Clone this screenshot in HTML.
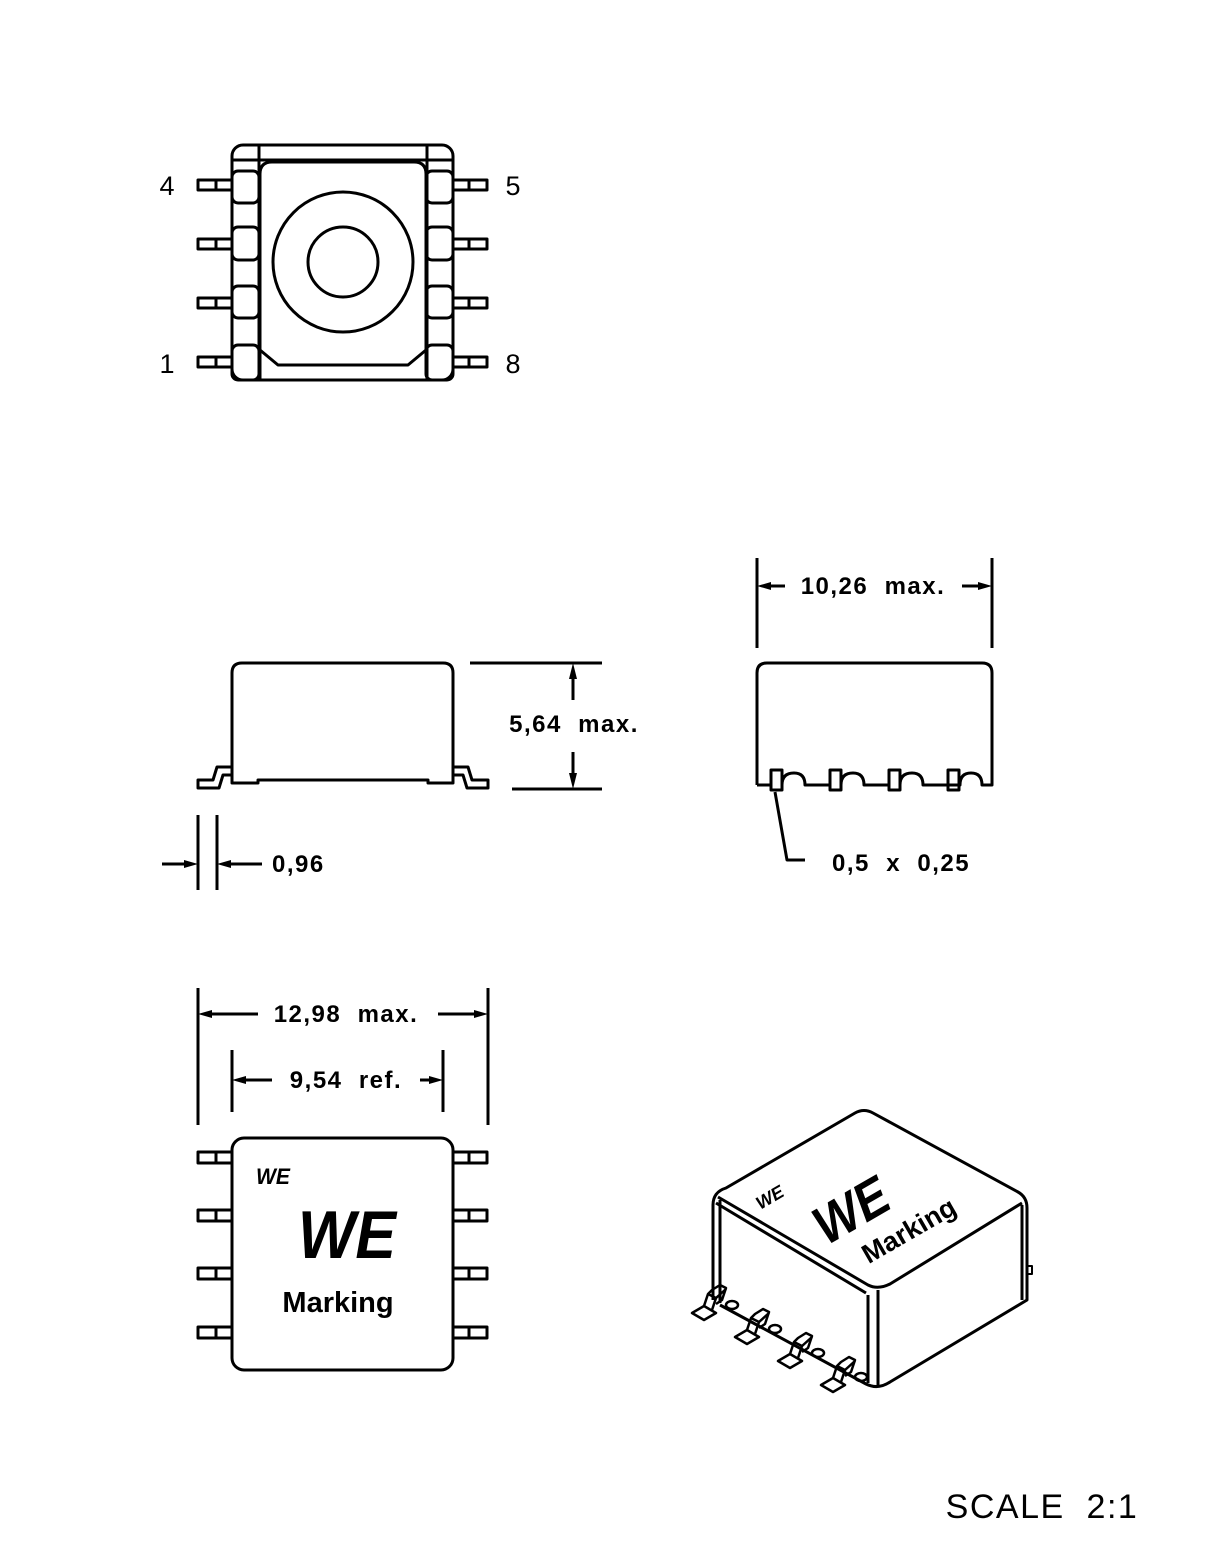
<!DOCTYPE html>
<html><head><style>html,body{margin:0;padding:0;background:#fff}svg{display:block}text{white-space:pre}</style></head><body>
<svg width="1229" height="1558" viewBox="0 0 1229 1558" xmlns="http://www.w3.org/2000/svg" font-family="Liberation Sans, sans-serif" xml:space="preserve">
<g fill="none" stroke="#000" stroke-width="3" stroke-linejoin="round">
<rect x="232" y="145" width="221" height="235" rx="11"/>
<line x1="259" y1="145" x2="259" y2="380"/><line x1="427" y1="145" x2="427" y2="380"/>
<line x1="232" y1="160" x2="453" y2="160"/>
<path d="M260,380 V174 Q260,162 272,162 H414 Q426,162 426,174 V350 L408,365 H278 L260,350"/>
<circle cx="343" cy="262" r="70"/><circle cx="343" cy="262" r="35"/>
<g id="pl">
<rect x="232" y="171" width="27" height="32" rx="6"/><rect x="232" y="227" width="27" height="33" rx="6"/>
<rect x="232" y="286" width="27" height="32" rx="6"/><rect x="232" y="345" width="27" height="35" rx="6"/>
</g>
<use href="#pl" transform="translate(685,0) scale(-1,1)"/>
<g id="ll">
<rect x="198" y="180" width="34" height="10"/><line x1="216" y1="180" x2="216" y2="190"/>
<rect x="198" y="239" width="34" height="10"/><line x1="216" y1="239" x2="216" y2="249"/>
<rect x="198" y="298" width="34" height="10"/><line x1="216" y1="298" x2="216" y2="308"/>
<rect x="198" y="357" width="34" height="10"/><line x1="216" y1="357" x2="216" y2="367"/>
</g>
<use href="#ll" transform="translate(685,0) scale(-1,1)"/>
<path d="M232,775 V673 Q232,663 242,663 H443 Q453,663 453,673 V783 H428 V780 H258 V783 H232 Z"/>
<path d="M232,767 H217 L213,780 H198 V788 H219 L223,775 H232"/>
<path d="M453,767 H468 L472,780 H488 V788 H467 L463,775 H453"/>
<line x1="470" y1="663" x2="602" y2="663"/><line x1="512" y1="789" x2="602" y2="789"/>
<line x1="573" y1="700" x2="573" y2="670"/>
<line x1="573" y1="752" x2="573" y2="782"/>
<line x1="198" y1="815" x2="198" y2="890"/><line x1="217" y1="815" x2="217" y2="890"/>
<line x1="162" y1="864" x2="190" y2="864"/>
<line x1="262" y1="864" x2="225" y2="864"/>
<path d="M757,785 V673 Q757,663 767,663 H982 Q992,663 992,673 V785 H982 Q982,773 971,773 Q960,773 960,785 H947 M900,785 Q900,773 912,773 Q923,773 923,785 H947 M841,785 Q841,773 853,773 Q864,773 864,785 H888 M782,785 Q782,773 794,773 Q805,773 805,785 H829 M770,785 H757"/>
<rect x="771" y="770" width="11" height="20"/><rect x="830" y="770" width="11" height="20"/>
<rect x="889" y="770" width="11" height="20"/><rect x="948" y="770" width="11" height="20"/>
<line x1="757" y1="558" x2="757" y2="648"/><line x1="992" y1="558" x2="992" y2="648"/>
<line x1="785" y1="586" x2="765" y2="586"/>
<line x1="962" y1="586" x2="984" y2="586"/>
<path d="M775,792 L787,860 H805"/>
<rect x="232" y="1138" width="221" height="232" rx="12"/>
<g id="bl">
<rect x="198" y="1152" width="34" height="11"/><line x1="216" y1="1152" x2="216" y2="1163"/>
<rect x="198" y="1210" width="34" height="11"/><line x1="216" y1="1210" x2="216" y2="1221"/>
<rect x="198" y="1268" width="34" height="11"/><line x1="216" y1="1268" x2="216" y2="1279"/>
<rect x="198" y="1327" width="34" height="11"/><line x1="216" y1="1327" x2="216" y2="1338"/>
</g>
<use href="#bl" transform="translate(685,0) scale(-1,1)"/>
<line x1="198" y1="988" x2="198" y2="1125"/><line x1="488" y1="988" x2="488" y2="1125"/>
<line x1="258" y1="1014" x2="206" y2="1014"/>
<line x1="438" y1="1014" x2="480" y2="1014"/>
<line x1="232" y1="1050" x2="232" y2="1112"/><line x1="443" y1="1050" x2="443" y2="1112"/>
<line x1="272" y1="1080" x2="240" y2="1080"/>
<line x1="420" y1="1080" x2="435" y2="1080"/>
<path d="M713,1300 V1205 Q713,1192 726,1188 L855,1113 Q864,1108 873,1113 L1018,1192 Q1027,1197 1027,1208 V1300 L890,1382 Q878,1390 866,1384 L720,1305"/>
<path d="M718,1197 L868,1285 Q878,1290 890,1284 L1022,1203"/>
<path d="M716,1203 L866,1293"/>
<line x1="878" y1="1290" x2="878" y2="1386"/><line x1="868" y1="1295" x2="868" y2="1383"/>
<line x1="720" y1="1200" x2="720" y2="1303"/><line x1="1022" y1="1205" x2="1022" y2="1300"/>
<path d="M1027,1266 h5 v8 h-5" stroke-width="2"/>
<g id="iso" stroke-width="2.5">
<path d="M692,1313 L704,1306 L716,1313 L704,1320 Z"/>
<path d="M704,1306 L708,1294 L712,1290 L720,1285 L726,1288 L722,1300 L716,1304"/>
<path d="M708,1294 L716,1298 L726,1289"/>
<path d="M716,1298 L712,1310"/>
<ellipse cx="732" cy="1305" rx="6" ry="4"/>
</g>
<use href="#iso" transform="translate(43,24)"/>
<use href="#iso" transform="translate(86,48)"/>
<use href="#iso" transform="translate(129,72)"/>
</g>
<g fill="#000">
<path d="M573,663 l-4,16 h8 z"/><path d="M573,789 l-4,-16 h8 z"/>
<path d="M198,864 l-14,-4 v8 z"/><path d="M217,864 l14,-4 v8 z"/>
<path d="M757,586 l14,-4 v8 z"/><path d="M992,586 l-14,-4 v8 z"/>
<path d="M198,1014 l14,-4 v8 z"/><path d="M488,1014 l-14,-4 v8 z"/>
<path d="M232,1080 l14,-4 v8 z"/><path d="M443,1080 l-14,-4 v8 z"/>
</g>
<g font-size="27" text-anchor="middle">
<text x="167" y="195">4</text><text x="513" y="195">5</text>
<text x="167" y="373">1</text><text x="513" y="373">8</text>
</g>
<g font-size="24" font-weight="bold" letter-spacing="1.5">
<text x="574" y="732" text-anchor="middle">5,64  max.</text>
<text x="272" y="872">0,96</text>
<text x="873" y="594" text-anchor="middle">10,26  max.</text>
<text x="832" y="871">0,5  x  0,25</text>
<text x="346" y="1022" text-anchor="middle">12,98  max.</text>
<text x="346" y="1088" text-anchor="middle">9,54  ref.</text>
</g>
<text x="256" y="1184" font-size="22" font-weight="bold" font-style="italic" textLength="34" lengthAdjust="spacingAndGlyphs">WE</text>
<text x="298" y="1258" font-size="68" font-weight="bold" font-style="italic" textLength="98" lengthAdjust="spacingAndGlyphs">WE</text>
<text x="338" y="1312" font-size="29" font-weight="bold" text-anchor="middle">Marking</text>
<g transform="translate(900,1215) rotate(-30)">
<text x="-40" y="-10" font-size="54" font-weight="bold" font-style="italic" text-anchor="middle" textLength="78" lengthAdjust="spacingAndGlyphs">WE</text>
<text x="0" y="27" font-size="27" font-weight="bold" text-anchor="middle">Marking</text>
</g>
<text x="755" y="1206" font-size="18" font-weight="bold" font-style="italic" transform="rotate(-30 765 1198)">WE</text>
<text x="1042" y="1518" font-size="34" text-anchor="middle" letter-spacing="1.5">SCALE  2:1</text>
</svg>
</body></html>
